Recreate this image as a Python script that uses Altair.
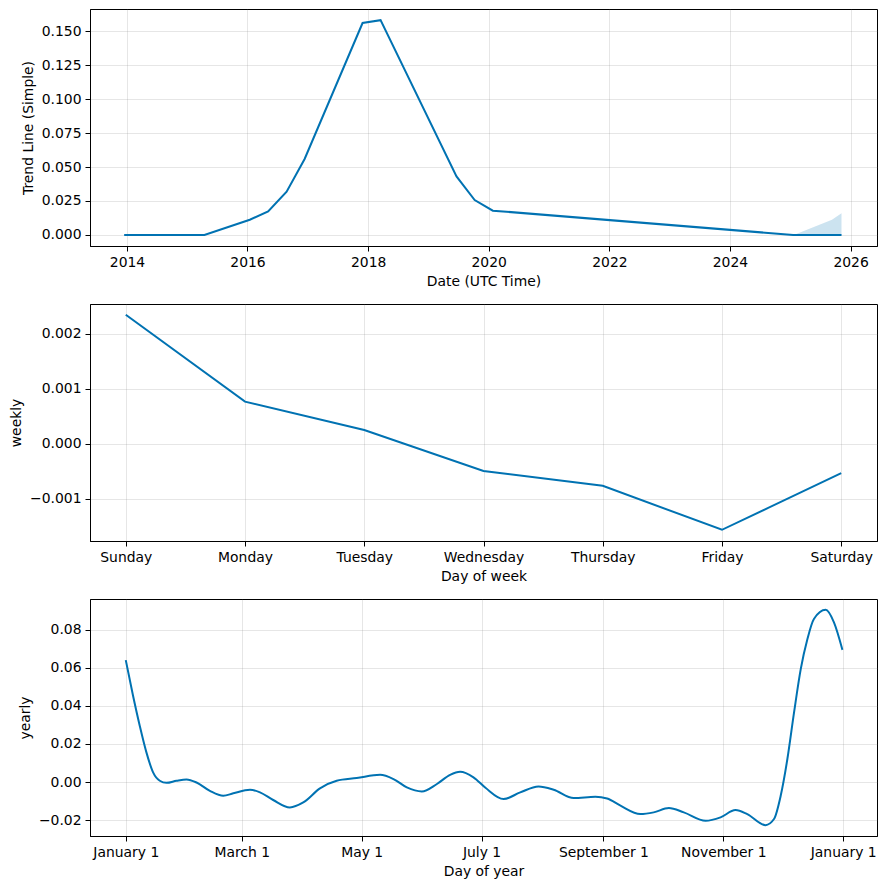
import json
import altair as alt
import pandas as pd

# ---------------- data ----------------
trend_dates = ["2013-12-15", "2015-04-15", "2016-01-15", "2016-05-05", "2016-08-25",
               "2016-12-12", "2017-11-28", "2018-03-17", "2019-06-20", "2019-10-08",
               "2020-01-26", "2025-01-18", "2025-11-07"]
trend_vals = [0.0, 0.0, 0.0112, 0.0174, 0.0319, 0.0559, 0.1559, 0.158, 0.0431, 0.0257,
              0.0179, 0.0, 0.0]

band_dates = ["2025-01-18", "2025-02-06", "2025-09-10", "2025-11-07"]
band_lower = [0.0, 0.0, 0.0, 0.0]
band_upper = [0.0, 0.0008, 0.0112, 0.016]

week_days = ["Sunday", "Monday", "Tuesday", "Wednesday", "Thursday", "Friday", "Saturday"]
week_vals = [0.00235, 0.00077, 0.000255, -0.00049, -0.00076, -0.00156, -0.00053]

year_days = [0, 3.7, 7.1, 10.5, 13.9, 17.3, 20.7, 25.8, 30.9, 36, 42.8, 49.6, 54.7, 63.2,
             68.3, 75, 83.5, 90.3, 98.8, 107.3, 117.5, 129.4, 136.2, 143, 150.6, 158.3,
             165, 170.1, 176.9, 183, 192.2, 200.7, 210, 217.7, 227.9, 238.9, 244.9,
             251.7, 261.8, 268.6, 276.3, 283.9, 295, 302.6, 310.2, 316.2, 325.5, 329.8,
             333.2, 336.6, 340, 343.4, 346.8, 350.1, 356.1, 360.3, 364.6]
year_vals = [0.064, 0.0453, 0.0296, 0.0156, 0.0051, 0.0007, -0.0004, 0.0007, 0.0014,
             -0.0002, -0.0046, -0.0072, -0.0059, -0.0040, -0.0054, -0.0094, -0.0133,
             -0.0107, -0.0033, 0.0007, 0.0021, 0.0038, 0.0016, -0.0028, -0.0049, -0.0010,
             0.0038, 0.0054, 0.0025, -0.0030, -0.0089, -0.0054, -0.0023, -0.0040,
             -0.0084, -0.0077, -0.0086, -0.0124, -0.0168, -0.0159, -0.0136, -0.0159,
             -0.0203, -0.0185, -0.0147, -0.0168, -0.0226, -0.0194, -0.0072, 0.0121,
             0.0366, 0.0593, 0.0751, 0.0856, 0.0904, 0.0838, 0.0694]

year_tick_days = [0, 59, 120, 181, 243, 304, 365]
year_tick_labels = ["January 1", "March 1", "May 1", "July 1", "September 1",
                    "November 1", "January 1"]

trend_year_ticks = ["2014-01-01", "2016-01-01", "2018-01-01", "2020-01-01",
                    "2022-01-01", "2024-01-01", "2026-01-01"]
trend_y_ticks = [0.0, 0.025, 0.05, 0.075, 0.1, 0.125, 0.15]

# ---------------- helpers ----------------
BLUE = "#0072B2"
W, H = 787, 237
FS = 13.9


def ms(s):
    return int(pd.Timestamp(s, tz="UTC").value // 10**6)


trend_df = pd.DataFrame({"ds": trend_dates, "trend": trend_vals})
band_df = pd.DataFrame({"ds": band_dates, "lo": band_lower, "hi": band_upper})
week_df = pd.DataFrame({"idx": list(range(len(week_days))), "weekly": week_vals})
year_df = pd.DataFrame({"doy": year_days, "yearly": year_vals})

x_time = alt.X(
    "ds:T",
    scale=alt.Scale(type="utc", domain=[ms("2013-05-22"), ms("2026-06-10")], nice=False),
    axis=alt.Axis(title="Date (UTC Time)", format="%Y", formatType="utc",
                  values=[ms(d) for d in trend_year_ticks]),
)
y_scale_trend = alt.Scale(domain=[-0.0081, 0.1662], nice=False, zero=False)
y_axis_trend = alt.Axis(title="Trend Line (Simple)", format=".3f", values=trend_y_ticks)

band = alt.Chart(band_df).mark_area(color=BLUE, opacity=0.2).encode(
    x=x_time, y=alt.Y("lo:Q", scale=y_scale_trend, axis=y_axis_trend), y2="hi:Q"
)
trend_line = alt.Chart(trend_df).mark_line(color=BLUE, strokeWidth=2).encode(
    x=x_time,
    y=alt.Y("trend:Q", scale=y_scale_trend, axis=y_axis_trend),
)
top = alt.layer(band, trend_line).properties(width=W, height=H)

week_expr = json.dumps(week_days) + "[datum.value]"
mid = alt.Chart(week_df).mark_line(color=BLUE, strokeWidth=2).encode(
    x=alt.X("idx:Q", scale=alt.Scale(domain=[-0.3, 6.3], nice=False, zero=False),
            axis=alt.Axis(title="Day of week", values=list(range(7)), labelExpr=week_expr)),
    y=alt.Y("weekly:Q", scale=alt.Scale(domain=[-0.001764, 0.002545], nice=False, zero=False),
            axis=alt.Axis(title="weekly", format=".3f",
                          values=[-0.001, 0.0, 0.001, 0.002])),
).properties(width=W, height=H)

year_expr = (json.dumps(year_tick_labels) + "[indexof(" + json.dumps(year_tick_days)
             + ", datum.value)]")
bot = alt.Chart(year_df).mark_line(color=BLUE, strokeWidth=2, interpolate="monotone").encode(
    x=alt.X("doy:Q", scale=alt.Scale(domain=[-18.2, 382.2], nice=False, zero=False),
            axis=alt.Axis(title="Day of year", values=year_tick_days, labelExpr=year_expr)),
    y=alt.Y("yearly:Q", scale=alt.Scale(domain=[-0.0283, 0.0961], nice=False, zero=False),
            axis=alt.Axis(title="yearly", format=".2f",
                          values=[-0.02, 0.0, 0.02, 0.04, 0.06, 0.08])),
).properties(width=W, height=H)

chart = alt.vconcat(top, mid, bot, spacing=58, bounds="flush").properties(
    padding={"top": 0, "left": 1, "right": 0, "bottom": 0}
).configure_view(
    stroke="black", strokeWidth=1
).configure_axis(
    labelFont="DejaVu Sans", titleFont="DejaVu Sans",
    labelFontSize=FS, titleFontSize=FS, titleFontWeight="normal",
    labelColor="black", titleColor="black",
    domainColor="black", tickColor="black", tickSize=5, tickWidth=1,
    grid=True, gridColor="gray", gridOpacity=0.2, gridWidth=1,
    labelPadding=4, titlePadding=6, labelOverlap=False,
)

chart.save("out.html", embed_options={"renderer": "svg", "actions": False})
